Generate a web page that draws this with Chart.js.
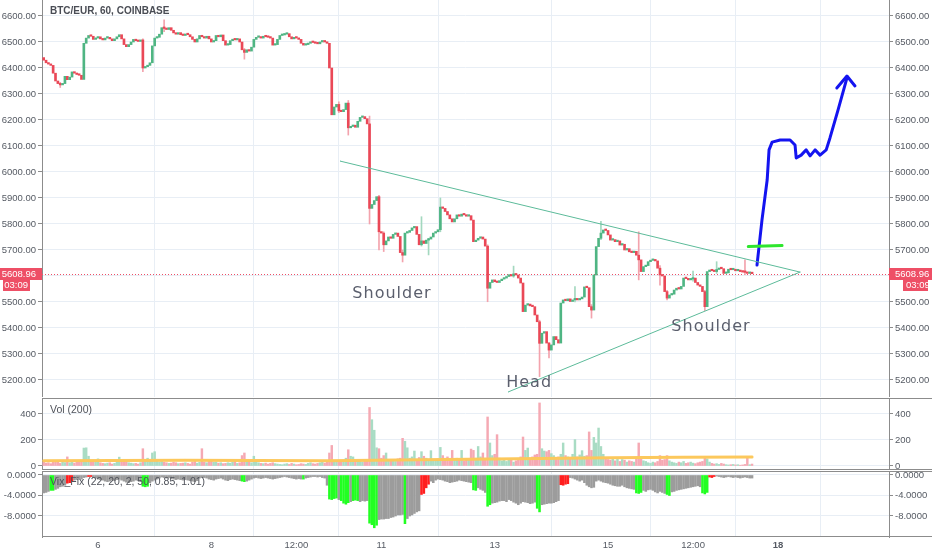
<!DOCTYPE html>
<html>
<head>
<meta charset="utf-8">
<script src="https://cdn.jsdelivr.net/npm/chart.js"></script>
<style>
  body { margin: 0; background: #fff; }
  #wrap { position: relative; width: 932px; height: 550px; overflow: hidden; }
  #wrap canvas { position: absolute; left: 0; }
</style>
</head>
<body>
<div id="wrap">
  <canvas id="priceChart" width="932" height="397" style="top:0px"></canvas>
  <canvas id="volChart" width="932" height="72" style="top:398px"></canvas>
  <canvas id="vixChart" width="932" height="79" style="top:471px"></canvas>
</div>
<script>
// hourly BTC/EUR closes, bar 0 = 5th 01:00
const firstOpen = 6440;
const closes = [
  6430,6420,6415,6410,6380,6350,6340,6335,6340,6368,
  6355,6365,6385,6380,6375,6372,6356,6495,6515,6525,
  6522,6510,6515,6520,6512,6508,6515,6518,6512,6505,
  6512,6520,6528,6512,6490,6482,6490,6500,6510,6505,
  6502,6508,6400,6405,6410,6420,6485,6515,6518,6530,
  6555,6552,6548,6555,6545,6535,6530,6536,6528,6525,
  6530,6528,6520,6510,6500,6512,6525,6520,6515,6522,
  6512,6500,6505,6525,6520,6527,6505,6488,6490,6505,
  6510,6508,6512,6500,6470,6460,6470,6465,6480,6510,
  6518,6520,6515,6522,6520,6518,6515,6488,6490,6510,
  6525,6527,6530,6532,6520,6512,6518,6515,6510,6495,
  6488,6490,6495,6500,6498,6495,6493,6500,6505,6500,
  6495,6400,6220,6250,6260,6235,6232,6240,6265,6170,
  6175,6180,6172,6195,6210,6213,6205,6185,5860,5875,
  5890,5905,5770,5765,5720,5735,5750,5745,5760,5765,
  5752,5690,5680,5765,5768,5775,5785,5790,5760,5720,
  5735,5725,5738,5742,5750,5765,5770,5778,5865,5860,
  5848,5835,5820,5808,5820,5835,5830,5838,5835,5830,
  5832,5815,5732,5738,5745,5750,5742,5715,5553,5575,
  5585,5578,5575,5582,5588,5592,5598,5605,5600,5608,
  5604,5592,5573,5463,5488,5492,5485,5482,5450,5424,
  5341,5380,5386,5342,5315,5335,5367,5355,5342,5496,
  5508,5505,5512,5502,5508,5512,5508,5512,5519,5558,
  5555,5482,5469,5604,5713,5745,5765,5777,5775,5758,
  5738,5740,5732,5735,5719,5722,5700,5705,5693,5690,
  5695,5680,5662,5617,5636,5640,5655,5660,5662,5658,
  5630,5604,5600,5540,5515,5527,5530,5546,5553,5550,
  5560,5592,5590,5585,5588,5592,5575,5565,5560,5540,
  5482,5617,5623,5620,5617,5625,5630,5628,5610,5612,
  5626,5624,5626,5620,5622,5617,5615,5614,5610,5612,
  5608.96
];
// visible wicks only
const wickIdx  = [7, 42, 51, 85, 125, 129, 138, 142, 144, 152, 160, 163, 168, 188, 199, 210, 214, 225, 232, 236, 252, 261, 264, 275, 280, 285, 297];
const wickLow  = [6325, 6386, 6540, 6434, 6228, 6142, 5800, 5700, 5694, 5654, 5715, 5681, 5770, 5501, 5595, 5213, 5285, 5500, 5438, 5740, 5585, 5565, 5508, 5580, 5467, 5610, 5605];
const wickHigh = [6345, 6512, 6585, 6475, 6270, 6275, 6215, 5910, 5770, 5700, 5828, 5745, 5900, 5720, 5638, 5430, 5345, 5559, 5490, 5810, 5770, 5640, 5545, 5619, 5545, 5655, 5662];

const volumes = [
  30,22,25,18,35,40,28,20,30,26,
  70,25,30,22,35,28,30,138,140,75,
  40,35,30,55,25,20,18,22,25,15,
  20,28,68,35,40,30,25,22,18,20,
  15,25,133,40,60,35,100,110,45,30,
  35,28,25,20,22,30,25,18,20,22,
  25,20,15,30,35,22,28,133,30,25,
  40,35,28,30,22,25,18,20,25,22,
  30,35,20,25,80,100,45,30,25,75,
  35,25,20,18,22,15,20,25,18,15,
  12,10,15,18,12,20,15,10,12,18,
  15,12,20,25,18,15,20,25,30,22,
  35,100,158,40,30,35,28,45,60,125,
  75,70,35,40,45,30,40,45,450,356,
  275,140,133,60,80,100,45,50,40,35,
  55,60,213,190,140,60,70,115,50,65,
  110,75,60,45,118,50,40,55,143,80,
  60,70,45,120,55,60,50,120,40,45,
  55,130,120,60,150,70,100,60,377,177,
  80,90,241,60,40,55,35,50,45,30,
  40,55,70,223,120,138,60,70,85,90,
  485,133,115,110,120,95,80,60,70,90,
  177,80,70,60,90,203,70,85,118,75,
  80,262,120,220,177,292,150,90,60,50,
  45,60,40,55,35,50,45,30,40,35,
  30,60,177,70,40,35,25,20,30,25,
  35,80,45,50,80,40,30,25,20,30,
  25,35,20,25,30,22,18,25,30,35,
  60,55,30,20,15,18,12,20,15,10,
  8,10,12,8,10,6,8,12,70,10,
  15
];
// Vol (200) moving average, read at a few bars
const volMaIdx = [0, 60, 120, 150, 180, 210, 240, 270, 300];
const volMaVal = [40, 44, 40, 46, 52, 58, 64, 68, 70];

const vixFix = [
  -3.5,-3.4,-3.2,-3.0,-3.0,-2.8,-2.6,-2.3,-2.2,-2.0,
  -1.6,-1.5,-1.2,-1.0,-0.9,-0.8,-0.8,-0.5,-0.4,-0.3,
  -0.3,-0.5,-0.6,-0.8,-0.9,-1.0,-1.2,-1.3,-1.2,-1.0,
  -1.1,-0.9,-0.8,-1.0,-1.2,-1.4,-1.5,-1.3,-1.2,-1.0,
  -1.1,-1.3,-2.2,-2.3,-2.2,-1.5,-1.2,-1.0,-0.8,-0.6,
  -0.4,-0.5,-0.6,-0.5,-0.7,-0.8,-0.9,-0.8,-0.9,-1.0,
  -0.9,-1.0,-1.1,-1.2,-1.3,-1.1,-0.6,-0.5,-0.5,-0.6,
  -0.8,-0.9,-1.0,-0.8,-0.7,-0.6,-0.8,-1.0,-1.1,-0.9,
  -0.8,-0.9,-1.0,-1.1,-1.2,-1.3,-1.2,-1.0,-0.8,-0.6,
  -0.5,-0.6,-0.7,-0.6,-0.5,-0.6,-0.7,-0.8,-0.7,-0.6,
  -0.5,-0.4,-0.3,-0.4,-0.5,-0.6,-0.7,-0.8,-0.7,-0.8,
  -0.8,-0.6,-0.5,-0.4,-0.3,-0.3,-0.4,-0.3,-0.5,-0.6,
  -2.0,-4.7,-4.8,-4.6,-4.5,-4.8,-5.0,-5.5,-5.7,-5.4,
  -5.2,-5.0,-4.9,-5.0,-5.2,-5.0,-5.1,-5.0,-9.4,-9.7,
  -10.3,-9.8,-8.7,-8.6,-8.6,-8.5,-8.5,-8.3,-8.2,-8.0,
  -7.8,-7.8,-7.7,-9.5,-8.5,-8.0,-7.8,-7.5,-7.2,-7.0,
  -3.8,-3.6,-2.5,-1.8,-1.2,-1.5,-1.0,-0.8,-0.9,-1.0,
  -1.2,-1.3,-1.5,-1.4,-1.3,-1.2,-1.0,-1.1,-1.2,-1.3,
  -1.4,-1.5,-2.9,-3.0,-2.5,-2.8,-3.0,-3.4,-6.1,-5.8,
  -5.5,-5.4,-5.3,-5.1,-5.0,-5.0,-5.2,-4.8,-5.0,-5.3,
  -5.5,-5.8,-5.5,-5.2,-5.3,-5.4,-5.6,-5.5,-5.3,-6.5,
  -7.2,-5.8,-5.7,-5.6,-5.5,-5.5,-5.4,-5.2,-5.0,-1.9,
  -2.0,-1.8,-1.7,-0.5,-0.6,-0.8,-1.0,-1.2,-1.0,-1.5,
  -2.0,-2.3,-2.5,-2.4,-1.2,-1.0,-1.2,-1.4,-1.5,-1.6,
  -1.8,-2.0,-2.1,-2.2,-2.2,-2.0,-2.3,-2.5,-2.6,-2.7,
  -2.8,-3.5,-3.6,-3.4,-3.0,-3.2,-2.9,-2.8,-3.0,-3.3,
  -3.5,-3.2,-3.4,-3.6,-3.8,-4.0,-3.3,-3.2,-3.0,-2.9,
  -2.8,-2.7,-2.6,-2.5,-2.4,-2.3,-2.2,-2.1,-2.3,-3.5,
  -3.7,-3.4,-0.4,-0.5,-0.3,-0.2,-0.3,-0.4,-0.5,-0.4,
  -0.3,-0.4,-0.5,-0.4,-0.5,-0.6,-0.5,-0.4,-0.5,-0.6,
  -0.6
];
const vixHighBars = [3,4,42,43,44,84,85,110,121,122,123,124,126,127,128,129,131,132,133,138,139,140,141,153,182,183,188,189,209,210,251,252,253,264,265,279,280,281];
const vixLowBars  = [10,11,12,19,20,160,161,162,163,219,220,221,222,282,283,284];

const tickIdx    = [23, 71, 107, 143, 191, 239, 275, 311];
const tickLabels = ['6', '8', '12:00', '11', '13', '15', '12:00', '18'];
const priceTicks = [5200,5300,5400,5500,5600,5700,5800,5900,6000,6100,6200,6300,6400,6500,6600];
const volTicks = [0, 200, 400];
const vixTicks = [0, -4, -8];

// drawings on the chart (bar index, price)
const upperTrend = [[125.5, 6042], [320.3, 5615]];
const lowerTrend = [[196.7, 5154], [320.3, 5615]];
const bluePath = [[302.1,5642],[304.2,5815],[306.4,5969],[307.2,6085],[308.5,6115],[311.9,6123],[316.1,6123],
  [318.2,6104],[318.7,6054],[320.8,6065],[322.9,6085],[324.6,6062],[326.7,6085],[328.8,6065],[331.4,6085],
  [333.0,6131],[336.4,6238],[340.2,6362]];
const blueArrow = [[335.9,6323],[340.2,6369],[343.6,6331]];
const greenMark = [[298.4,5713],[312.7,5717]];
const noteText  = ['Shoulder', 'Shoulder', 'Head'];
const noteIdx   = [147.5, 282.6, 205.6];
const notePrice = [5530, 5404, 5190];

const xMin = -0.72, xMax = 358.0;
const font = 'Liberation Sans';
const textColor = '#555a63';
const gridColor = '#e8eef5';
const borderColor = '#8c8c8c';
const upColor = '#4fb583', downColor = '#ea4857';
const priceRed = '#ee4f66';

const opens = closes.map((c, i) => i === 0 ? firstOpen : closes[i - 1]);
const isUp = closes.map((c, i) => c >= opens[i]);

function xAxis(showLabels) {
  return {
    type: 'linear', min: xMin, max: xMax, offset: false,
    afterBuildTicks: ax => { ax.ticks = tickIdx.map(v => ({ value: v })); },
    afterFit: ax => { ax.height = showLabels ? 13 : 0; ax.paddingLeft = 0; ax.paddingRight = 0; },
    grid: { color: gridColor, drawTicks: false },
    border: { display: false },
    ticks: {
      display: showLabels, padding: 3, color: textColor, autoSkip: false, maxRotation: 0,
      font: c => ({ family: font, size: 9.5, weight: (c.tick && tickLabels[tickIdx.indexOf(c.tick.value)] === '18') ? 'bold' : 'normal' }),
      callback: v => tickLabels[tickIdx.indexOf(v)]
    }
  };
}

function yAxis(side, min, max, ticks, fmt) {
  return {
    type: 'linear', position: side, min: min, max: max,
    afterBuildTicks: ax => { ax.ticks = ticks.map(v => ({ value: v })); },
    afterFit: ax => { ax.width = side === 'left' ? 42 : 43; ax.paddingTop = 0; ax.paddingBottom = 0; },
    grid: { drawOnChartArea: side === 'right', color: gridColor, tickColor: borderColor, tickLength: 4 },
    border: { display: true, color: borderColor },
    ticks: { padding: 2, color: textColor, font: { family: font, size: 9.5 }, callback: fmt }
  };
}

function paneBorders(top, bottom) {
  return {
    id: 'paneBorders',
    afterDraw(chart) {
      const { ctx, chartArea: a } = chart;
      ctx.save();
      ctx.strokeStyle = borderColor;
      ctx.lineWidth = 1;
      ctx.beginPath();
      if (top) { ctx.moveTo(a.left, a.top + 0.5); ctx.lineTo(932, a.top + 0.5); }
      if (bottom) { ctx.moveTo(a.left, a.bottom - 0.5); ctx.lineTo(932, a.bottom - 0.5); }
      ctx.stroke();
      ctx.restore();
    }
  };
}

function paneTitle(text, x, y, bold) {
  return {
    id: 'paneTitle',
    afterDraw(chart) {
      const ctx = chart.ctx;
      ctx.save();
      ctx.font = (bold ? 'bold 10px ' : '10.5px ') + '"' + font + '"';
      ctx.fillStyle = bold ? '#4a4d55' : '#4f525a';
      ctx.textBaseline = 'middle';
      ctx.fillText(text, x, y);
      ctx.restore();
    }
  };
}

const pricePlugin = {
  id: 'pricePlugin',
  beforeDatasetsDraw(chart) {
    const { ctx, chartArea: a, scales } = chart;
    const y = Math.round(scales.y.getPixelForValue(closes[closes.length - 1])) + 0.5;
    ctx.save();
    ctx.strokeStyle = priceRed;
    ctx.lineWidth = 1;
    ctx.setLineDash([1, 2]);
    ctx.beginPath();
    ctx.moveTo(a.left, y);
    ctx.lineTo(a.right, y);
    ctx.stroke();
    ctx.restore();
  },
  afterDatasetsDraw(chart) {
    const { ctx, scales } = chart;
    ctx.save();
    ctx.font = '16px "DejaVu Sans"';
    ctx.letterSpacing = '1px';
    ctx.fillStyle = '#5b5f6d';
    ctx.textAlign = 'center';
    ctx.textBaseline = 'middle';
    noteText.forEach((t, k) => {
      ctx.fillText(t, scales.x.getPixelForValue(noteIdx[k]), scales.y.getPixelForValue(notePrice[k]));
    });
    ctx.restore();
  },
  afterDraw(chart) {
    const { ctx, chartArea: a, scales } = chart;
    const last = closes[closes.length - 1];
    const y = Math.round(scales.y.getPixelForValue(last));
    ctx.save();
    ctx.fillStyle = priceRed;
    ctx.fillRect(a.right, y - 6, 932 - a.right, 12);
    ctx.fillRect(a.right + 14, y + 6, 25, 11);
    ctx.fillRect(0, y - 6, a.left, 12);
    ctx.fillRect(3, y + 6, 27, 11);
    ctx.fillStyle = '#fff';
    ctx.font = '9.5px "' + font + '"';
    ctx.textBaseline = 'middle';
    ctx.textAlign = 'left';
    ctx.fillText(last.toFixed(2), a.right + 6, y);
    ctx.fillText('03:09', a.right + 17, y + 11.5);
    ctx.textAlign = 'right';
    ctx.fillText(last.toFixed(2), a.left - 6, y);
    ctx.fillText('03:09', 28, y + 11.5);
    ctx.restore();
  }
};

const pts = arr => arr.map(p => ({ x: p[0], y: p[1] }));
const drawLine = (arr, color, width) => ({
  type: 'line', data: pts(arr), borderColor: color, borderWidth: width, pointRadius: 0,
  fill: false, tension: 0, borderCapStyle: 'round', borderJoinStyle: 'round', order: 0
});

const common = {
  responsive: false, animation: false, events: [],
  layout: { padding: 0 },
  plugins: { legend: { display: false }, tooltip: { enabled: false } }
};

new Chart(document.getElementById('priceChart'), {
  type: 'bar',
  data: {
    datasets: [
      {
        data: wickIdx.map((i, k) => ({ x: i, y: [wickLow[k], wickHigh[k]] })),
        backgroundColor: wickIdx.map(i => isUp[i] ? '#a3d8bf' : '#f3a3ad'),
        barThickness: 1, grouped: false, order: 2
      },
      {
        data: closes.map((c, i) => ({ x: i, y: [opens[i], c] })),
        backgroundColor: isUp.map(u => u ? upColor : downColor),
        barThickness: 2, minBarLength: 1.5, grouped: false, order: 1
      },
      drawLine(upperTrend, '#5cbb9a', 1),
      drawLine(lowerTrend, '#5cbb9a', 1),
      drawLine(greenMark, '#2ee62e', 3),
      drawLine(bluePath, '#1414f0', 3),
      drawLine(blueArrow, '#1414f0', 3)
    ]
  },
  options: Object.assign({}, common, {
    scales: {
      x: xAxis(false),
      yl: yAxis('left', 5134.6, 6661.5, priceTicks, v => v.toFixed(2)),
      y: yAxis('right', 5134.6, 6661.5, priceTicks, v => v.toFixed(2))
    }
  }),
  plugins: [pricePlugin, paneTitle('BTC/EUR, 60, COINBASE', 50, 11, true)]
});

new Chart(document.getElementById('volChart'), {
  type: 'bar',
  data: {
    datasets: [
      {
        data: volumes.map((v, i) => ({ x: i, y: v })),
        backgroundColor: isUp.map(u => u ? '#a9dcc4' : '#f5a9b3'),
        barThickness: 1.8, grouped: false, order: 1
      },
      drawLine(volMaIdx.map((i, k) => [i, volMaVal[k]]), '#fcc85c', 3)
    ]
  },
  options: Object.assign({}, common, {
    scales: {
      x: xAxis(false),
      yl: yAxis('left', -30.8, 523, volTicks, v => String(v)),
      y: yAxis('right', -30.8, 523, volTicks, v => String(v))
    }
  }),
  plugins: [paneBorders(true, true), paneTitle('Vol (200)', 50, 12, false)]
});

new Chart(document.getElementById('vixChart'), {
  type: 'bar',
  data: {
    datasets: [{
      data: vixFix.map((v, i) => ({ x: i, y: v })),
      backgroundColor: vixFix.map((v, i) => vixHighBars.includes(i) ? '#22ff22' : (vixLowBars.includes(i) ? '#ff1f1f' : '#9c9c9c')),
      barThickness: 1.9, grouped: false
    }]
  },
  options: Object.assign({}, common, {
    scales: {
      x: xAxis(true),
      yl: yAxis('left', -12.1, 0.78, vixTicks, v => v.toFixed(4)),
      y: yAxis('right', -12.1, 0.78, vixTicks, v => v.toFixed(4))
    }
  }),
  plugins: [paneBorders(true, true), paneTitle('Vix_Fix (22, 20, 2, 50, 0.85, 1.01)', 50, 11, false)]
});
</script>
</body>
</html>
